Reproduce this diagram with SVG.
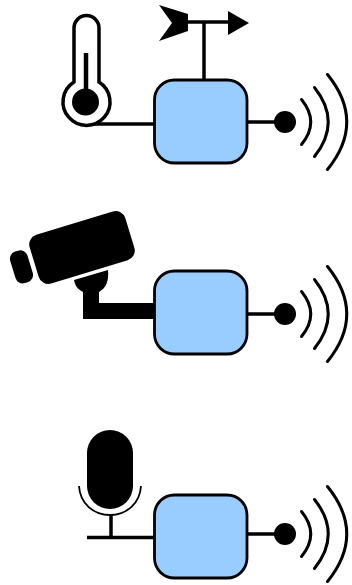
<svg xmlns="http://www.w3.org/2000/svg" width="352" height="585" viewBox="0 0 352 585">
<defs>
<style>
.box{fill:#99ccff;stroke:#000;stroke-width:2.8}
.ln{fill:none;stroke:#000;stroke-width:3.500}
.arc{fill:none;stroke:#000;stroke-width:3;stroke-linecap:round}
.blk{fill:#000;stroke:none}
</style>
<g id="radio">
<circle cx="285" cy="122" r="11" class="blk"/>
<path class="arc" d="M301.500 99.500Q320 122 301.500 144.500"/>
<path class="arc" d="M314.500 87.500Q342 122 314.500 156.500"/>
<path class="arc" d="M327.500 74.500Q366 122 327.500 169.500"/>
</g>
</defs>
<g id="connectors">
<path class="ln" d="M85 124H154"/>
<path class="ln" d="M204 22V80"/>
<path class="ln" d="M185 22H232"/>
<path class="ln" d="M247 122H280"/>
<path class="ln" d="M247 314H280"/>
<path class="ln" d="M247 534H280"/>
<path class="ln" d="M87 537.500H155"/>
<path class="ln" d="M111 515V537"/>
<path class="blk" d="M83 290H99V303H154V319H83Z"/>
</g>
<g id="thermometer">
<path fill="#fff" stroke="#000" stroke-width="3.500" d="M74 82V28A12.500 12.500 0 0 1 99 28V82A23.500 23.500 0 1 1 74 82Z"/>
<circle cx="85.500" cy="102" r="13.500" class="blk"/>
<path stroke="#000" stroke-width="4.500" d="M86 53V100"/>
</g>
<g id="vane">
<path class="blk" d="M159 5L188 14V31L159 41L172 23Z"/>
<path class="blk" d="M228 11L249 23L228 35Z"/>
</g>
<g id="camera">
<rect x="32" y="222" width="100" height="51" rx="10" class="blk" transform="rotate(-17 82 247.500)"/>
<rect x="12.500" y="250.500" width="18" height="33" rx="7.500" class="blk" transform="rotate(-17 21 267)"/>
<path class="blk" d="M74 280L108 270C109 281 106 288 99 292H83C77 289 75 285 74 280Z"/>
</g>
<g id="mic">
<rect x="87" y="430" width="46" height="79" rx="23" class="blk"/>
<path fill="none" stroke="#000" stroke-width="1.800" d="M79 486C80 503 93 515 110 515C127 515 140 503 141 486"/>
</g>
<g id="node1"><rect x="154.500" y="80" width="92.500" height="83" rx="20" class="box"/><use href="#radio"/></g>
<g id="node2"><rect x="154.500" y="271" width="92.500" height="83" rx="20" class="box"/><use href="#radio" y="192"/></g>
<g id="node3"><rect x="154.500" y="495" width="92.500" height="83" rx="20" class="box"/><use href="#radio" y="412"/></g>
</svg>
